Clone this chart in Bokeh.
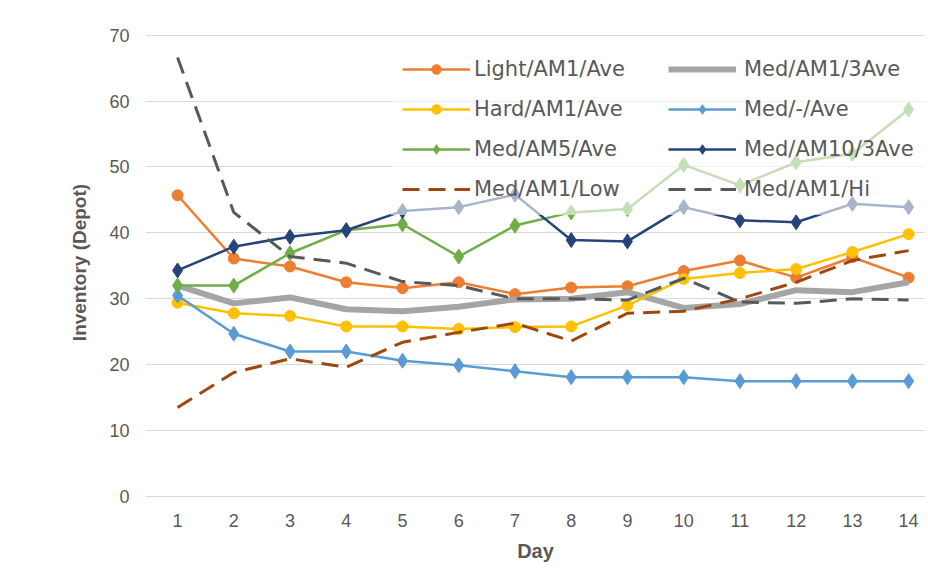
from bokeh.plotting import figure
from bokeh.models import (ColumnDataSource, Legend, LegendItem, FixedTicker,
                          Range1d, BoxAnnotation)
from bokeh.embed import file_html
from bokeh.resources import INLINE

days = list(range(1, 15))
light_am1_ave = [45.7, 36.1, 34.9, 32.5, 31.6, 32.5, 30.7, 31.7, 31.9, 34.2, 35.8, 33.2, 36.3, 33.2]
med_am1_3ave = [32.0, 29.3, 30.2, 28.4, 28.1, 28.8, 29.9, 30.0, 31.0, 28.6, 29.2, 31.3, 31.0, 32.5]
hard_am1_ave = [29.4, 27.8, 27.4, 25.8, 25.8, 25.4, 25.7, 25.8, 29.0, 33.0, 33.9, 34.5, 37.1, 39.8]
med_none_ave = [30.5, 24.7, 22.0, 22.0, 20.6, 19.9, 19.0, 18.1, 18.1, 18.1, 17.5, 17.5, 17.5, 17.5]
med_am5_ave = [32.0, 32.0, 36.9, 40.4, 41.3, 36.4, 41.1, 43.1, 43.6, 50.3, 47.2, 50.7, 52.0, 58.7]
med_am10_3ave = [34.3, 37.9, 39.4, 40.4, 43.3, 43.9, 45.8, 38.9, 38.7, 43.9, 41.9, 41.6, 44.4, 43.9]
med_am1_low = [13.5, 18.8, 20.9, 19.6, 23.4, 24.9, 26.3, 23.6, 27.8, 28.1, 30.0, 32.5, 35.8, 37.3]
med_am1_hi = [66.6, 43.1, 36.4, 35.4, 32.6, 32.0, 30.0, 30.0, 29.8, 33.1, 29.5, 29.3, 30.0, 29.8]
y_ticks = [0, 10, 20, 30, 40, 50, 60, 70]

series = [
    ("Light/AM1/Ave", light_am1_ave, "#ED7D31", 2.5, "solid", "circle", 11),
    ("Med/AM1/3Ave", med_am1_3ave, "#A5A5A5", 6, "solid", None, 0),
    ("Hard/AM1/Ave", hard_am1_ave, "#FFC000", 2.5, "solid", "circle", 11),
    ("Med/-/Ave", med_none_ave, "#5B9BD5", 2.5, "solid", "diamond", 15),
    ("Med/AM5/Ave", med_am5_ave, "#70AD47", 2.5, "solid", "diamond", 15),
    ("Med/AM10/3Ave", med_am10_3ave, "#264478", 2.5, "solid", "diamond", 15),
    ("Med/AM1/Low", med_am1_low, "#9E480E", 3, "17 9", None, 0),
    ("Med/AM1/Hi", med_am1_hi, "#595959", 3, "17 9", None, 0),
]

p = figure(width=928, height=570, output_backend="svg", toolbar_location=None,
           x_range=Range1d(0.43, 14.3), y_range=Range1d(0, 71),
           min_border_left=145, min_border_right=3, min_border_top=28,
           min_border_bottom=74)
p.outline_line_color = None
p.background_fill_color = "white"
p.border_fill_color = "white"

p.xgrid.grid_line_color = None
p.ygrid.grid_line_color = "#D9D9D9"
p.ygrid.grid_line_width = 1

p.yaxis.ticker = FixedTicker(ticks=y_ticks)
p.xaxis.ticker = FixedTicker(ticks=days)
for ax in (p.xaxis[0], p.yaxis[0]):
    ax.major_tick_line_color = None
    ax.minor_tick_line_color = None
    ax.major_label_text_font = "Liberation Sans"
    ax.major_label_text_font_size = "18px"
    ax.major_label_text_color = "#595959"
    ax.axis_label_text_font = "Liberation Sans"
    ax.axis_label_text_font_style = "bold"
    ax.axis_label_text_color = "#595959"
p.yaxis.axis_line_color = None
p.xaxis.axis_line_color = "#D9D9D9"
p.xaxis.axis_label = "Day"
p.yaxis.axis_label = "Inventory (Depot)"
p.xaxis.axis_label_text_font_size = "20px"
p.yaxis.axis_label_text_font_size = "19px"
p.yaxis.major_label_standoff = 10
p.yaxis.axis_label_standoff = 16
p.xaxis.major_label_standoff = 11
p.xaxis.axis_label_standoff = 10

items = []
for name, vals, color, lw, dash, marker, msize in series:
    src = ColumnDataSource(dict(x=days, y=vals))
    rs = [p.line("x", "y", source=src, line_color=color, line_width=lw,
                 line_dash=dash, line_join="round")]
    if marker:
        rs.append(p.scatter("x", "y", source=src, marker=marker, size=msize,
                            fill_color=color, line_color=color))
    items.append(LegendItem(label=name, renderers=rs))

bg = BoxAnnotation(left=4.79, right=14.3, top=68.5, bottom=42.7,
                   fill_color="white", fill_alpha=0.6, line_color=None)
p.add_layout(bg)

def make_legend(its, loc, standoff):
    lg = Legend(items=its, location=loc, orientation="vertical",
                background_fill_alpha=0, border_line_color=None,
                label_text_font="DejaVu Sans", label_text_font_size="21px",
                label_text_color="#595959", glyph_width=68, glyph_height=24,
                label_height=24, spacing=16, padding=10,
                label_standoff=standoff, margin=0)
    return lg

lg1 = make_legend([items[0], items[2], items[4], items[6]], (257, 295), 4)
lg2 = make_legend([items[1], items[3], items[5], items[7]], (523, 295), 8)
p.add_layout(lg1, "center")
p.add_layout(lg2, "center")

open("out.html", "w").write(file_html(p, INLINE))
